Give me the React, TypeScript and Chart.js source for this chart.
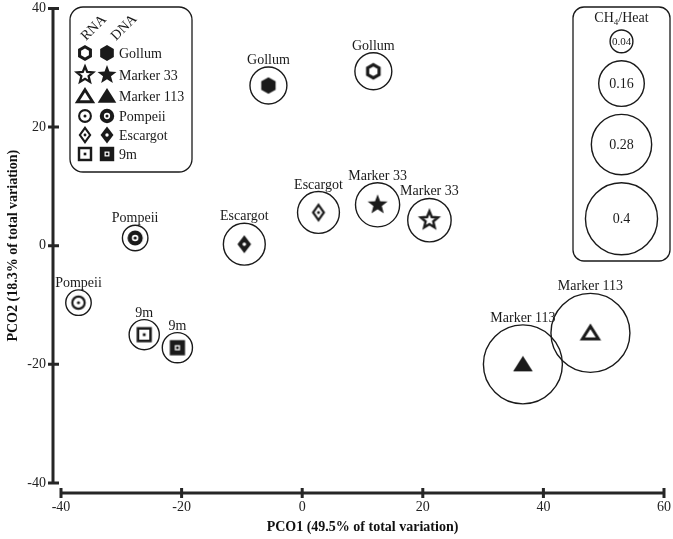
import React, { useEffect, useRef } from "react";
import { Chart, registerables } from "chart.js";

Chart.register(...registerables);

// ---------------- data ----------------
const sampleNames = ["Gollum", "Gollum", "Marker 33", "Marker 33", "Marker 113", "Marker 113", "Pompeii", "Pompeii", "Escargot", "Escargot", "9m", "9m"];
const nucleicType = ["RNA", "DNA", "RNA", "DNA", "RNA", "DNA", "RNA", "DNA", "RNA", "DNA", "RNA", "DNA"];
const pco1 = [11.8, -5.6, 21.1, 12.5, 47.8, 36.6, -37.1, -27.7, 2.7, -9.6, -26.2, -20.7];
const pco2 = [29.4, 27.0, 4.3, 6.9, -14.7, -20.0, -9.6, 1.3, 5.6, 0.25, -15.0, -17.2];
const ch4Heat = [0.105, 0.105, 0.145, 0.15, 0.48, 0.48, 0.05, 0.05, 0.135, 0.135, 0.07, 0.07];

const legendSamples = ["Gollum", "Marker 33", "Marker 113", "Pompeii", "Escargot", "9m"];
const legendShapes = ["hexagon", "star", "triangle", "target", "diamond", "square"];
const sizeLegendValues = [0.04, 0.16, 0.28, 0.4];
const sizeLegendLabels = ["0.04", "0.16", "0.28", "0.4"];

const xTitle = "PCO1 (49.5% of total variation)";
const yTitle = "PCO2 (18.3% of total variation)";

// ---------------- style ----------------
const INK = "#1a1a1a";
const FONT = "'Liberation Serif', 'Times New Roman', serif";
const RADIUS_K = 57;
const toRadius = (v: number) => RADIUS_K * Math.sqrt(v);

function shapeOf(name: string) {
  return legendShapes[legendSamples.indexOf(name)];
}

function drawSymbol(ctx: CanvasRenderingContext2D, shape: string, filled: boolean, s: number) {
  ctx.fillStyle = INK;
  ctx.strokeStyle = INK;
  ctx.lineJoin = "miter";
  const dot = (r: number, color: string) => {
    ctx.beginPath();
    ctx.arc(0, 0, r, 0, Math.PI * 2);
    ctx.fillStyle = color;
    ctx.fill();
  };
  switch (shape) {
    case "hexagon": {
      const R = (filled ? 8.3 : 6.6) * s;
      ctx.beginPath();
      for (let i = 0; i < 6; i++) {
        const a = -Math.PI / 2 + (i * Math.PI) / 3;
        ctx.lineTo(R * Math.cos(a), R * Math.sin(a));
      }
      ctx.closePath();
      if (filled) ctx.fill();
      else {
        ctx.lineWidth = 3.2 * s;
        ctx.stroke();
      }
      break;
    }
    case "star": {
      const Ro = (filled ? 10.5 : 9) * s;
      const Ri = (filled ? 4.4 : 4.0) * s;
      ctx.beginPath();
      for (let i = 0; i < 10; i++) {
        const a = -Math.PI / 2 + (i * Math.PI) / 5;
        const r = i % 2 === 0 ? Ro : Ri;
        ctx.lineTo(r * Math.cos(a), r * Math.sin(a));
      }
      ctx.closePath();
      if (filled) ctx.fill();
      else {
        ctx.lineWidth = 2.4 * s;
        ctx.stroke();
      }
      break;
    }
    case "triangle": {
      ctx.beginPath();
      if (filled) {
        ctx.moveTo(0, -8.5 * s);
        ctx.lineTo(9.8 * s, 7 * s);
        ctx.lineTo(-9.8 * s, 7 * s);
        ctx.closePath();
        ctx.fill();
      } else {
        ctx.moveTo(0, -6.6 * s);
        ctx.lineTo(8 * s, 6 * s);
        ctx.lineTo(-8 * s, 6 * s);
        ctx.closePath();
        ctx.lineWidth = 3 * s;
        ctx.stroke();
      }
      break;
    }
    case "target": {
      if (filled) {
        dot(7.6 * s, INK);
        dot(3.3 * s, "#fff");
        dot(1.6 * s, INK);
      } else {
        ctx.beginPath();
        ctx.arc(0, 0, 6.2 * s, 0, Math.PI * 2);
        ctx.lineWidth = 2.2 * s;
        ctx.stroke();
        dot(1.6 * s, INK);
      }
      break;
    }
    case "diamond": {
      ctx.beginPath();
      if (filled) {
        ctx.moveTo(0, -9 * s);
        ctx.lineTo(6.8 * s, 0);
        ctx.lineTo(0, 9 * s);
        ctx.lineTo(-6.8 * s, 0);
        ctx.closePath();
        ctx.fill();
        dot(1.8 * s, "#fff");
      } else {
        ctx.moveTo(0, -7.6 * s);
        ctx.lineTo(5.4 * s, 0);
        ctx.lineTo(0, 7.6 * s);
        ctx.lineTo(-5.4 * s, 0);
        ctx.closePath();
        ctx.lineWidth = 2.2 * s;
        ctx.stroke();
        dot(1.5 * s, INK);
      }
      break;
    }
    case "square": {
      if (filled) {
        const h = 7.6 * s;
        ctx.fillRect(-h, -h, 2 * h, 2 * h);
        ctx.fillStyle = "#fff";
        ctx.fillRect(-2.6 * s, -2.6 * s, 5.2 * s, 5.2 * s);
        ctx.fillStyle = INK;
        ctx.fillRect(-1.3 * s, -1.3 * s, 2.6 * s, 2.6 * s);
      } else {
        const h = 6.3 * s;
        ctx.lineWidth = 2.6 * s;
        ctx.strokeRect(-h, -h, 2 * h, 2 * h);
        ctx.fillRect(-1.4 * s, -1.4 * s, 2.8 * s, 2.8 * s);
      }
      break;
    }
  }
}

function makeSymbolCanvas(shape: string, filled: boolean, s: number) {
  const c = document.createElement("canvas");
  c.width = 26;
  c.height = 26;
  const ctx = c.getContext("2d")!;
  ctx.translate(13, 13);
  drawSymbol(ctx, shape, filled, s);
  return c;
}

function roundRect(ctx: CanvasRenderingContext2D, x: number, y: number, w: number, h: number, r: number) {
  ctx.beginPath();
  ctx.moveTo(x + r, y);
  ctx.lineTo(x + w - r, y);
  ctx.arcTo(x + w, y, x + w, y + r, r);
  ctx.lineTo(x + w, y + h - r);
  ctx.arcTo(x + w, y + h, x + w - r, y + h, r);
  ctx.lineTo(x + r, y + h);
  ctx.arcTo(x, y + h, x, y + h - r, r);
  ctx.lineTo(x, y + r);
  ctx.arcTo(x, y, x + r, y, r);
  ctx.closePath();
}

export default function App() {
  const ref = useRef<HTMLCanvasElement>(null);

  useEffect(() => {
    const canvas = ref.current!;
    const markerImgs = sampleNames.map((n, i) => makeSymbolCanvas(shapeOf(n), nucleicType[i] === "DNA", 1));
    const legendImgs = legendShapes.map((sh) => [makeSymbolCanvas(sh, false, 0.95), makeSymbolCanvas(sh, true, 0.95)]);

    const points = pco1.map((x, i) => ({ x, y: pco2[i] }));
    const bubbles = pco1.map((x, i) => ({ x, y: pco2[i], r: toRadius(ch4Heat[i]) }));

    const overlay = {
      id: "overlay",
      beforeDatasetsDraw(chart: any) {
        const ctx: CanvasRenderingContext2D = chart.ctx;
        const xs = chart.scales.x;
        const ys = chart.scales.y;
        const area = chart.chartArea;
        const axX = area.left - 8;
        const axY = area.bottom + 10;
        ctx.save();
        ctx.strokeStyle = "#262626";
        ctx.lineWidth = 3;
        ctx.lineCap = "butt";
        ctx.beginPath();
        ctx.moveTo(axX, ys.getPixelForValue(ys.max));
        ctx.lineTo(axX, ys.getPixelForValue(ys.min));
        ys.ticks.forEach((t: any) => {
          const y = ys.getPixelForValue(t.value);
          ctx.moveTo(axX - 5, y);
          ctx.lineTo(axX + 6, y);
        });
        ctx.moveTo(xs.getPixelForValue(xs.min), axY);
        ctx.lineTo(xs.getPixelForValue(xs.max), axY);
        xs.ticks.forEach((t: any) => {
          const x = xs.getPixelForValue(t.value);
          ctx.moveTo(x, axY - 5);
          ctx.lineTo(x, axY + 5);
        });
        ctx.stroke();
        ctx.restore();
      },
      afterDatasetsDraw(chart: any) {
        const ctx: CanvasRenderingContext2D = chart.ctx;
        ctx.save();
        ctx.fillStyle = INK;
        ctx.strokeStyle = INK;
        // labels above bubbles
        const meta = chart.getDatasetMeta(1);
        ctx.font = `14px ${FONT}`;
        ctx.textAlign = "center";
        ctx.textBaseline = "alphabetic";
        meta.data.forEach((el: any, i: number) => {
          const r = bubbles[i].r;
          ctx.fillText(sampleNames[i], el.x, el.y - r - 3);
        });

        // sample legend box
        ctx.lineWidth = 1.3;
        roundRect(ctx, 70, 7, 122, 165, 13);
        ctx.stroke();
        const rnaX = 85;
        const dnaX = 107;
        ctx.font = `14px ${FONT}`;
        ctx.textAlign = "left";
        [["RNA", 86], ["DNA", 116]].forEach(([t, x]) => {
          ctx.save();
          ctx.translate(x as number, 41);
          ctx.rotate(-Math.PI / 4);
          ctx.fillText(t as string, 0, 0);
          ctx.restore();
        });
        const rowY = [53, 75, 96, 116, 135, 154];
        ctx.textBaseline = "middle";
        legendSamples.forEach((name, i) => {
          const [rna, dna] = legendImgs[i];
          ctx.drawImage(rna, rnaX - 13, rowY[i] - 13);
          ctx.drawImage(dna, dnaX - 13, rowY[i] - 13);
          ctx.fillStyle = INK;
          ctx.fillText(name, 119, rowY[i] + 1);
        });

        // size legend box
        const bx = 573, by = 7, bw = 97, bh = 254;
        roundRect(ctx, bx, by, bw, bh, 11);
        ctx.lineWidth = 1.3;
        ctx.stroke();
        const cx = bx + bw / 2;
        ctx.textBaseline = "alphabetic";
        ctx.textAlign = "left";
        ctx.font = `14px ${FONT}`;
        const wCH = ctx.measureText("CH").width;
        const wHeat = ctx.measureText("/Heat").width;
        ctx.font = `9px ${FONT}`;
        const w4 = ctx.measureText("4").width;
        const total = wCH + w4 + wHeat;
        let tx = cx - total / 2;
        const ty = 22;
        ctx.font = `14px ${FONT}`;
        ctx.fillText("CH", tx, ty);
        tx += wCH;
        ctx.font = `9px ${FONT}`;
        ctx.fillText("4", tx, ty + 3);
        tx += w4;
        ctx.font = `14px ${FONT}`;
        ctx.fillText("/Heat", tx, ty);

        let yCursor = 30;
        ctx.textAlign = "center";
        ctx.textBaseline = "middle";
        sizeLegendValues.forEach((v, i) => {
          const r = toRadius(v);
          const cy = yCursor + r;
          ctx.beginPath();
          ctx.arc(cx, cy, r, 0, Math.PI * 2);
          ctx.lineWidth = 1.4;
          ctx.stroke();
          ctx.font = i === 0 ? `11px ${FONT}` : `14px ${FONT}`;
          ctx.fillText(sizeLegendLabels[i], cx, cy + 1);
          yCursor = cy + r + 8;
        });
        ctx.restore();
      },
    };

    const tickFont = { family: FONT, size: 14 };
    const titleFont = { family: FONT, size: 14, weight: "bold" as const };

    const chart = new Chart(canvas, {
      type: "bubble",
      data: {
        datasets: [
          {
            type: "scatter",
            data: points,
            pointStyle: markerImgs as any,
            pointRadius: 9,
            order: 0,
          } as any,
          {
            type: "bubble",
            data: bubbles,
            backgroundColor: "rgba(0,0,0,0)",
            borderColor: INK,
            borderWidth: 1.4,
            order: 1,
          } as any,
        ],
      },
      plugins: [overlay],
      options: {
        responsive: false,
        animation: false,
        events: [],
        layout: { autoPadding: false, padding: { top: 7, right: 9, left: 0, bottom: 0 } },
        plugins: { legend: { display: false }, tooltip: { enabled: false } },
        scales: {
          x: {
            type: "linear",
            min: -40,
            max: 60,
            ticks: { stepSize: 20, font: tickFont, color: "#222", padding: 0 },
            grid: { display: false, drawTicks: true, tickLength: 16 },
            border: { display: false },
            title: { display: true, text: xTitle, font: titleFont, color: "#111", padding: { top: 0, bottom: 3 } },
            afterFit: (s: any) => {
              s.height = 56;
            },
          },
          y: {
            type: "linear",
            min: -40,
            max: 40,
            ticks: { stepSize: 20, font: tickFont, color: "#222", padding: 0 },
            grid: { display: false, drawTicks: true, tickLength: 15 },
            border: { display: false },
            title: { display: true, text: yTitle, font: titleFont, color: "#111", padding: { top: 5, bottom: 0 } },
            afterFit: (s: any) => {
              s.width = 61;
            },
          },
        },
      } as any,
    });
    return () => chart.destroy();
  }, []);

  return (
    <div style={{ position: "absolute", left: 0, top: 0, width: 673, height: 539, background: "#fff" }}>
      <canvas ref={ref} width={673} height={539} style={{ display: "block" }} />
    </div>
  );
}
